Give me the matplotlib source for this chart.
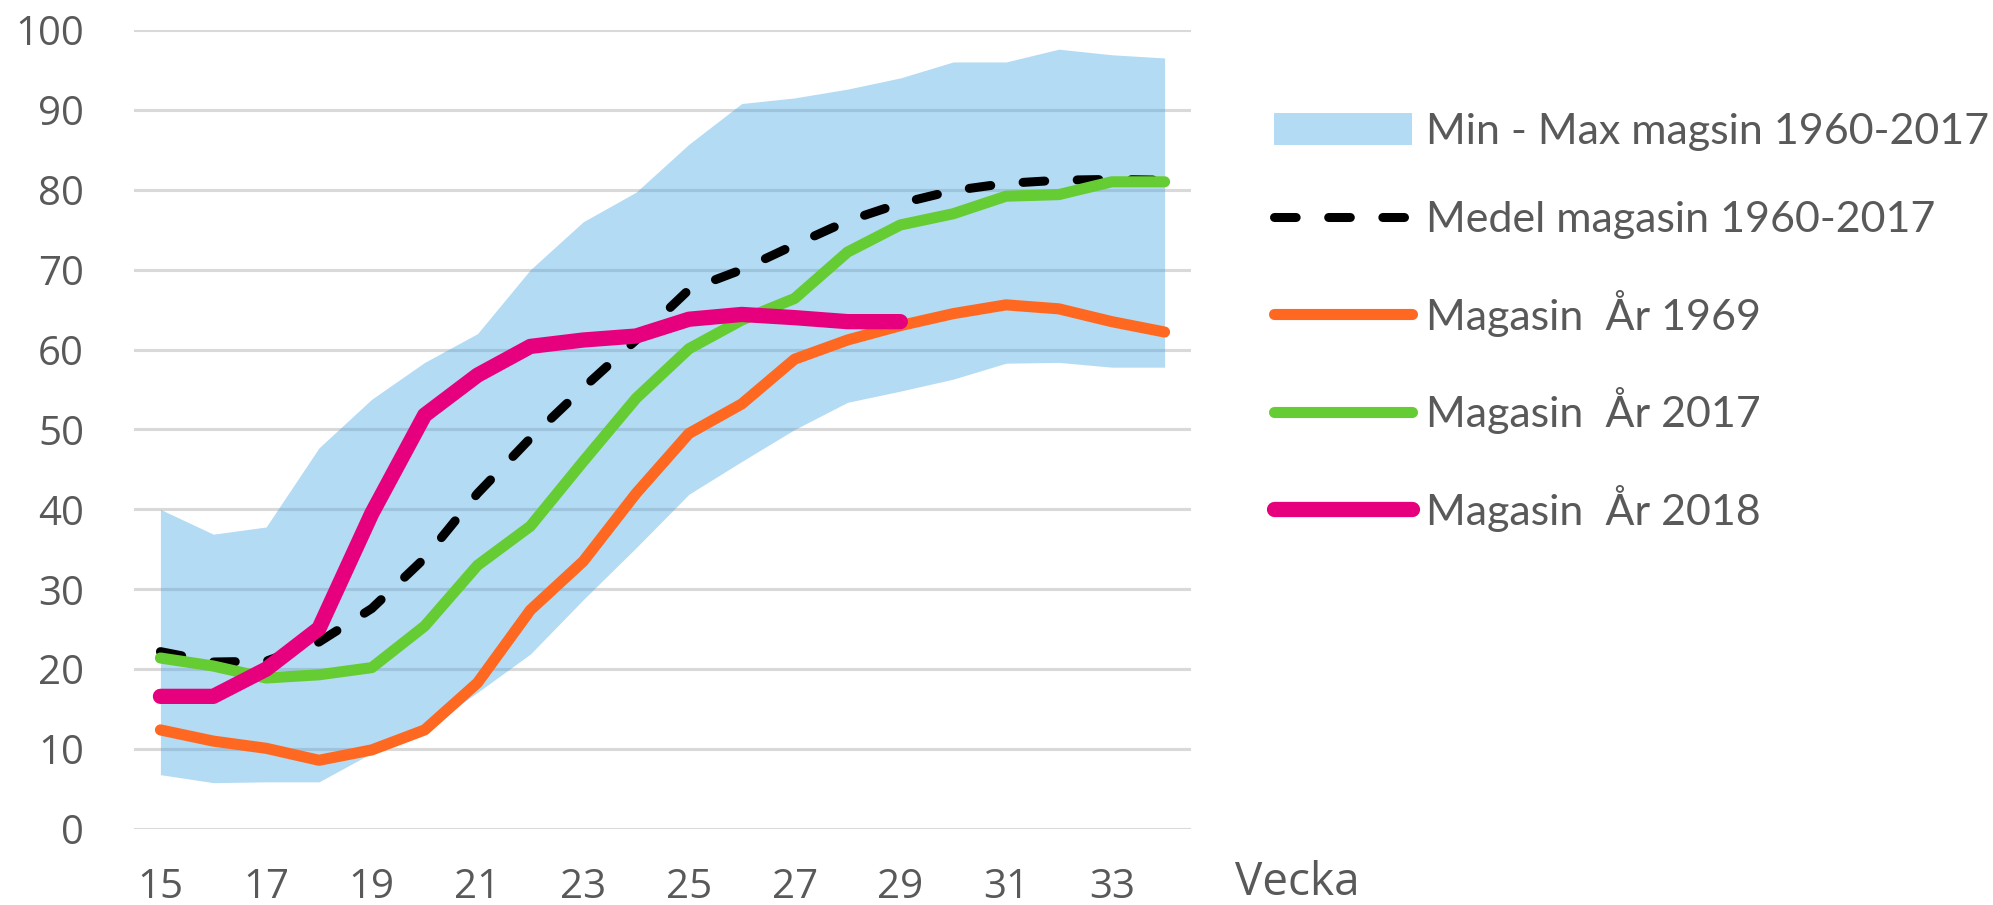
import matplotlib.pyplot as plt

# -----------------------------
# Data
# -----------------------------
weeks = list(range(15, 35))
week_ticks = list(range(15, 34, 2))
y_ticks = list(range(0, 101, 10))

max_1960_2017 = [40.0, 36.9, 37.8, 47.7, 53.8, 58.4, 62.0, 70.0, 76.0, 79.7,
                 85.7, 90.8, 91.5, 92.6, 94.0, 96.0, 96.0, 97.6, 96.9, 96.5]
min_1960_2017 = [6.8, 5.8, 5.9, 5.9, 9.5, 12.5, 17.1, 21.9, 28.7, 35.2,
                 41.9, 46.0, 50.0, 53.4, 54.8, 56.3, 58.3, 58.4, 57.8, 57.8]
medel_1960_2017 = [22.2, 20.9, 21.0, 23.4, 27.6, 33.9, 42.0, 48.9, 55.2, 61.2,
                   67.5, 70.0, 73.1, 76.1, 78.3, 79.9, 80.8, 81.2, 81.3, 81.2]
magasin_1969 = [12.4, 11.0, 10.1, 8.6, 9.9, 12.4, 18.3, 27.4, 33.5, 42.0,
                49.5, 53.2, 58.8, 61.2, 63.0, 64.5, 65.6, 65.1, 63.5, 62.2]
magasin_2017 = [21.4, 20.4, 18.9, 19.3, 20.2, 25.4, 33.0, 37.9, 46.0, 53.9,
                60.1, 63.7, 66.4, 72.2, 75.6, 77.0, 79.2, 79.4, 81.0, 81.0]
weeks_2018 = list(range(15, 30))
magasin_2018 = [16.6, 16.6, 20.0, 25.1, 39.5, 51.8, 56.8, 60.4, 61.2, 61.7,
                63.8, 64.4, 64.0, 63.5, 63.5]

labels = ["Min - Max magsin 1960-2017", "Medel magasin 1960-2017",
          "Magasin  År 1969", "Magasin  År 2017", "Magasin  År 2018"]

TEXT_GRAY = "#595959"

# -----------------------------
# Figure
# -----------------------------
fig = plt.figure(figsize=(19.93, 9.05), dpi=100)
ax = fig.add_axes([134 / 1993, 1 - 829 / 905, (1191 - 134) / 1993, (829 - 30) / 905])

# gridlines first so the translucent band tints them
for y in y_ticks:
    ax.axhline(y, color="#D9D9D9", linewidth=2.2, zorder=0)

ax.fill_between(weeks, min_1960_2017, max_1960_2017, color="#43A5E3",
                alpha=0.4, linewidth=0, zorder=1, label=labels[0])

common = dict(solid_capstyle="round", dash_capstyle="round",
              solid_joinstyle="round", dash_joinstyle="round")
ax.plot(weeks, medel_1960_2017, color="black", linewidth=6.5,
        dashes=(2.4, 3.6), zorder=2, label=labels[1], **common)
ax.plot(weeks, magasin_1969, color="#FF6820", linewidth=8, zorder=3,
        label=labels[2], **common)
ax.plot(weeks, magasin_2017, color="#66CC33", linewidth=8, zorder=4,
        label=labels[3], **common)
ax.plot(weeks_2018, magasin_2018, color="#E6007E", linewidth=11, zorder=5,
        label=labels[4], **common)

ax.set_xlim(14.5, 34.5)
ax.set_ylim(0, 100)
ax.set_xticks(week_ticks)
ax.set_yticks(y_ticks)
for side in ["top", "right", "bottom", "left"]:
    ax.spines[side].set_visible(False)
ax.tick_params(length=0, labelcolor=TEXT_GRAY)
ax.tick_params(axis="x", pad=28)
ax.tick_params(axis="y", pad=36)
for lab in ax.get_xticklabels() + ax.get_yticklabels():
    lab.set_fontfamily("Open Sans")
    lab.set_fontsize(29)

fig.text(1235 / 1993, 1 - 895 / 905, "Vecka", fontsize=33, family="Open Sans",
         color=TEXT_GRAY, ha="left", va="baseline")

leg = fig.legend(loc="upper left", bbox_to_anchor=(1274 / 1993, 1 - 113 / 905),
                 frameon=False, borderpad=0, borderaxespad=0,
                 prop={"family": "Lato", "size": 31},
                 handlelength=3.2, handleheight=0.74, handletextpad=0.33,
                 labelspacing=1.17)
for t in leg.get_texts():
    t.set_color(TEXT_GRAY)

fig.savefig("out.png", dpi=100)
plt.close(fig)
